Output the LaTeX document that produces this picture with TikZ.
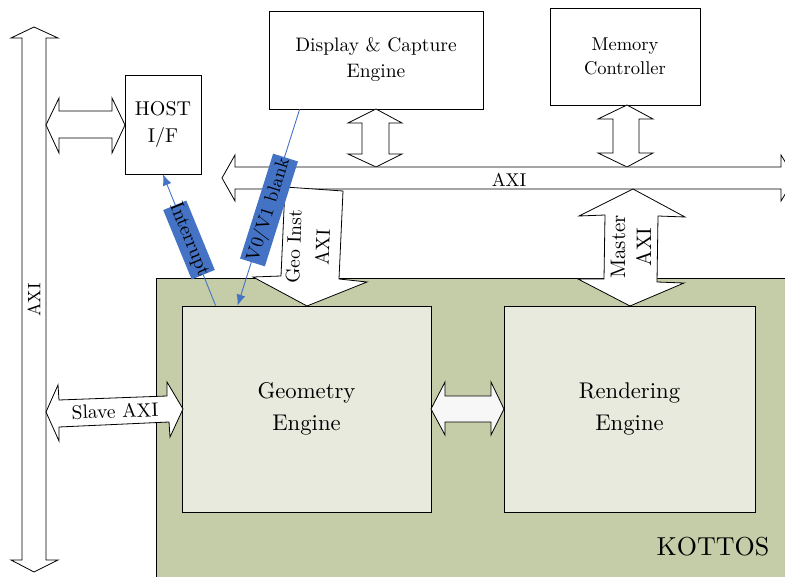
\documentclass[tikz,border=0pt]{standalone}
\usepackage{fontspec}
\setmainfont{lmroman10-regular}[Extension=.otf]
\usetikzlibrary{calc,arrows.meta}
\definecolor{kgreen}{RGB}{197,205,168}
\definecolor{kinner}{RGB}{232,234,222}
\definecolor{kblue}{RGB}{68,114,196}
\tikzset{
  blk/.style={draw=black, line width=0.8pt, fill=white, line join=miter},
  box/.style={draw=black, line width=0.8pt, fill=white, align=center, inner sep=0pt},
  eng/.style={box, fill=kinner},
  lbl/.style={fill=kblue, inner sep=0pt, text=black},
  sig/.style={draw=kblue, line width=0.9pt, -{Latex[length=11pt,width=9pt]}},
}
\newcommand{\fs}[2]{\fontsize{#1}{#2}\selectfont}
\begin{document}
\begin{tikzpicture}[x=1pt,y=-1pt]
\useasboundingbox (0,0) rectangle (785,577);
\begin{scope}
\clip (0,0) rectangle (785,577);
% KOTTOS area
\fill[kgreen] (156,278) rectangle (790,580);
\draw[line width=0.8pt] (156,580) -- (156,278) -- (790,278);
\node[font=\fs{26}{30}] (kottos) at (713,547) {KOTTOS};

% boxes
\node[box, minimum width=76pt, minimum height=99pt, font=\fs{20}{27}] (host) at (163,124.5) {HOST\\I/F};
\node[box, minimum width=214pt, minimum height=98pt, font=\fs{19.5}{26}] (disp) at (376,60) {Display \& Capture\\Engine};
\node[box, minimum width=150pt, minimum height=97pt, font=\fs{18.5}{24}] (mem) at (625,56.5) {Memory\\Controller};
\node[eng, minimum width=249pt, minimum height=206pt, font=\fs{22.7}{32}] (geo) at (306.5,409) {Geometry\\Engine};
\node[eng, minimum width=251pt, minimum height=206pt, font=\fs{22.7}{32}] (rend) at (629.5,409) {Rendering\\Engine};

% left vertical AXI
\draw[blk] (34,27) -- (58,38) -- (46,38) -- (46,560) -- (58,560) -- (34,572) -- (11,560) -- (22,560) -- (22,38) -- (11,38) -- cycle;
\node[rotate=90, font=\fs{18}{20}] (laxi) at (34,300) {AXI};

% host double arrow
\draw[blk] (46,125) -- (59,98) -- (59,111) -- (112,111) -- (112,98) -- (125,125) -- (112,153) -- (112,138) -- (59,138) -- (59,153) -- cycle;

% display double arrow
\draw[blk] (376,109) -- (402,123) -- (389,123) -- (389,154) -- (402,154) -- (376,167) -- (348,154) -- (362,154) -- (362,123) -- (348,123) -- cycle;

% memory double arrow
\draw[blk] (627,105) -- (653,119) -- (639,119) -- (639,153) -- (653,153) -- (627,167) -- (598,153) -- (613,153) -- (613,119) -- (598,119) -- cycle;

% AXI bus
\draw[blk] (222,178) -- (235,155) -- (235,167) -- (781,167) -- (781,155) -- (795,178) -- (781,201) -- (781,189) -- (235,189) -- (235,201) -- cycle;
\node[font=\fs{18.5}{20}] (baxi) at (509,180) {AXI};

% Master AXI
\draw[blk] (633,189) -- (685,217) -- (658,216) -- (657,282) -- (684,283) -- (630,306) -- (578,279) -- (604,279) -- (605,215) -- (579,216) -- cycle;
\node[rotate=90, align=center, font=\fs{21}{26}] (maxi) at (631,247) {Master\\AXI};

% Geo Inst AXI
\draw[blk] (285,187) -- (343,191) -- (339,279) -- (367,282) -- (307,306) -- (253,277) -- (281,276) -- cycle;
\node[rotate=88, align=center, font=\fs{19.5}{29}] (gaxi) at (308,247) {Geo Inst\\AXI};

% engine double arrow
\draw[blk, fill=white!97!black] (431,409) -- (445,382) -- (445,396) -- (491,396) -- (491,382) -- (504,409) -- (491,435) -- (491,422) -- (445,422) -- (445,435) -- cycle;

% Slave AXI
\draw[blk] (46,412) -- (58,385) -- (59,400) -- (167,396) -- (167,382) -- (183,409) -- (170,437) -- (169,422) -- (59,427) -- (59,441) -- cycle;
\node[rotate=2, font=\fs{19.5}{22}] (saxi) at (115,411) {Slave AXI};

% signals
\coordinate (intS) at ($(geo.north west)+(34,0)$);
\coordinate (vS) at ($(disp.south west)+(31,0)$);
\coordinate (vE) at ($(geo.north west)+(56,0)$);
\draw[sig] (intS) -- (host.south);
\draw[sig] (vS) -- (vE);
\node[lbl, rotate=-67.7, minimum width=75pt, minimum height=25pt, font=\fs{19.5}{22}] (intl) at (189,240) {\makebox[0pt]{Interrupt}};
\node[lbl, rotate=72.5, minimum width=110pt, minimum height=26pt, font=\fs{18.5}{22}] (vl) at (269,210) {\makebox[0pt]{V0/V1 blank}};
\end{scope}
\end{tikzpicture}
\end{document}
